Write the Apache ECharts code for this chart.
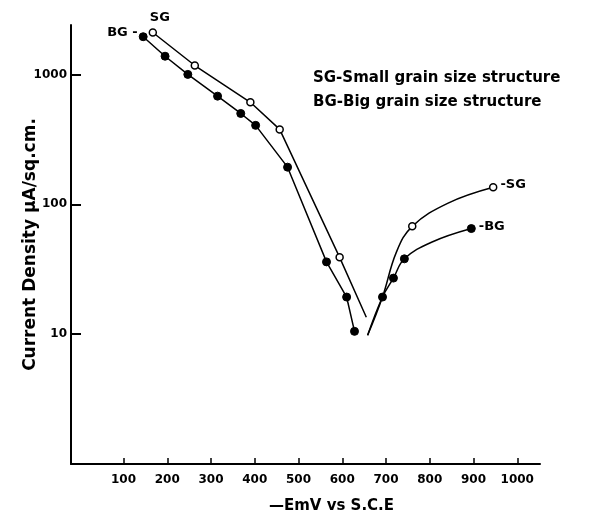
<!DOCTYPE html>
<html>
<head>
<meta charset="utf-8">
<script src="https://cdn.jsdelivr.net/npm/echarts@6/dist/echarts.min.js"></script>
<style>
  html, body { margin: 0; padding: 0; background: #fff; }
  #chart { width: 606px; height: 519px; }
</style>
</head>
<body>
<div id="chart"></div>
<script>
// Polarization curves: current density (log) against -E (mV vs S.C.E)
// for small grain (SG) and big grain (BG) structures.

// Left branches (falling towards the corrosion potential)
const sgLeftE = [167, 263, 390, 457, 594, 655];
const sgLeftI = [2100, 1170, 610, 377, 39, 13.5];
const sgLeftMarked = [1, 1, 1, 1, 1, 0];

const bgLeftE = [145, 195, 247, 315, 368, 402, 475, 564, 610, 628];
const bgLeftI = [1950, 1380, 1000, 680, 500, 405, 193, 36, 19.3, 10.5];
const bgLeftMarked = [1, 1, 1, 1, 1, 1, 1, 1, 1, 1];

// Right branches (rising after the corrosion potential)
const sgRightE = [658, 692, 724, 760, 842, 945];
const sgRightI = [9.8, 19.3, 43, 67.6, 102, 135];
const sgRightMarked = [0, 0, 0, 1, 0, 1];

const bgRightE = [658, 692, 717, 742, 804, 895];
const bgRightI = [9.8, 19.3, 27, 38, 51, 65];
const bgRightMarked = [0, 1, 1, 1, 0, 1];

const xTicks = [100, 200, 300, 400, 500, 600, 700, 800, 900, 1000];
const yTicks = [10, 100, 1000];

const FONT = 'DejaVu Sans';

function points(es, is, marked, labels) {
  return es.map((e, k) => {
    const item = { value: [e, is[k]], symbol: marked[k] ? 'circle' : 'none' };
    if (labels && labels[k]) item.label = labels[k];
    return item;
  });
}

const openStyle = { color: '#fff', borderColor: '#000', borderWidth: 1.5 };
const filledStyle = { color: '#000', borderColor: '#000', borderWidth: 1 };
const lineStyle = { color: '#000', width: 1.5 };
const endLabel = (text, position, offset) => ({
  show: true, position: position, formatter: text, offset: offset || [0, 0],
  color: '#000', fontFamily: FONT, fontSize: 13, fontWeight: 'bold', distance: 3
});

const option = {
  backgroundColor: '#fff',
  animation: false,
  grid: { left: 71, right: 66, top: 25, bottom: 55, containLabel: false, outerBoundsMode: 'none' },
  xAxis: {
    type: 'value', min: -20, max: 1052,
    name: '\u2014EmV vs S.C.E',
    nameLocation: 'middle', nameGap: 35, nameMoveOverlap: false,
    nameTextStyle: { color: '#000', fontFamily: FONT, fontSize: 15, fontWeight: 'bold', padding: [0, 0, 0, 52] },
    axisLine: { onZero: false, lineStyle: { color: '#000', width: 2 } },
    axisTick: { inside: true, length: 6, customValues: xTicks, lineStyle: { color: '#000', width: 1.5 } },
    axisLabel: { customValues: xTicks, formatter: v => String(v), color: '#000',
                 fontFamily: FONT, fontSize: 12, fontWeight: 'bold', margin: 10 },
    splitLine: { show: false }
  },
  yAxis: {
    type: 'log', logBase: 10, min: 1, max: 2400,
    name: 'Current Density \u03bcA/sq.cm.',
    nameLocation: 'middle', nameGap: 32, nameRotate: 90, nameMoveOverlap: false,
    nameTextStyle: { color: '#000', fontFamily: FONT, fontSize: 17, fontWeight: 'bold' },
    axisLine: { onZero: false, lineStyle: { color: '#000', width: 2 } },
    axisTick: { inside: true, length: 10, customValues: yTicks, lineStyle: { color: '#000', width: 2 } },
    axisLabel: { customValues: yTicks, formatter: v => String(Math.round(v)), color: '#000',
                 fontFamily: FONT, fontSize: 12, fontWeight: 'bold', margin: 4 },
    splitLine: { show: false }
  },
  graphic: [
    { type: 'text', left: 313, top: 71,
      style: { text: 'SG-Small grain size structure', fill: '#000', font: 'bold 15px "DejaVu Sans"' } },
    { type: 'text', left: 313, top: 95,
      style: { text: 'BG-Big grain size structure', fill: '#000', font: 'bold 15px "DejaVu Sans"' } }
  ],
  series: [
    {
      name: 'SG', type: 'line', symbolSize: 7, lineStyle: lineStyle, itemStyle: openStyle,
      data: points(sgLeftE, sgLeftI, sgLeftMarked, { 0: endLabel('SG', 'top', [7, -1]) }),
      z: 3
    },
    {
      name: 'BG', type: 'line', symbolSize: 8, lineStyle: lineStyle, itemStyle: filledStyle,
      data: points(bgLeftE, bgLeftI, bgLeftMarked, { 0: endLabel('BG -', 'left', [2, -4]) }),
      z: 2
    },
    {
      name: 'SG', type: 'line', smooth: 0.4, symbolSize: 7, lineStyle: lineStyle, itemStyle: openStyle,
      data: points(sgRightE, sgRightI, sgRightMarked, { 5: endLabel('-SG', 'right', [0, -3]) }),
      z: 3
    },
    {
      name: 'BG', type: 'line', smooth: 0.4, symbolSize: 8, lineStyle: lineStyle, itemStyle: filledStyle,
      data: points(bgRightE, bgRightI, bgRightMarked, { 5: endLabel('-BG', 'right', [0, -2]) }),
      z: 2
    }
  ]
};

const chart = echarts.init(document.getElementById('chart'), null, { renderer: 'canvas' });
chart.setOption(option);
</script>
</body>
</html>
